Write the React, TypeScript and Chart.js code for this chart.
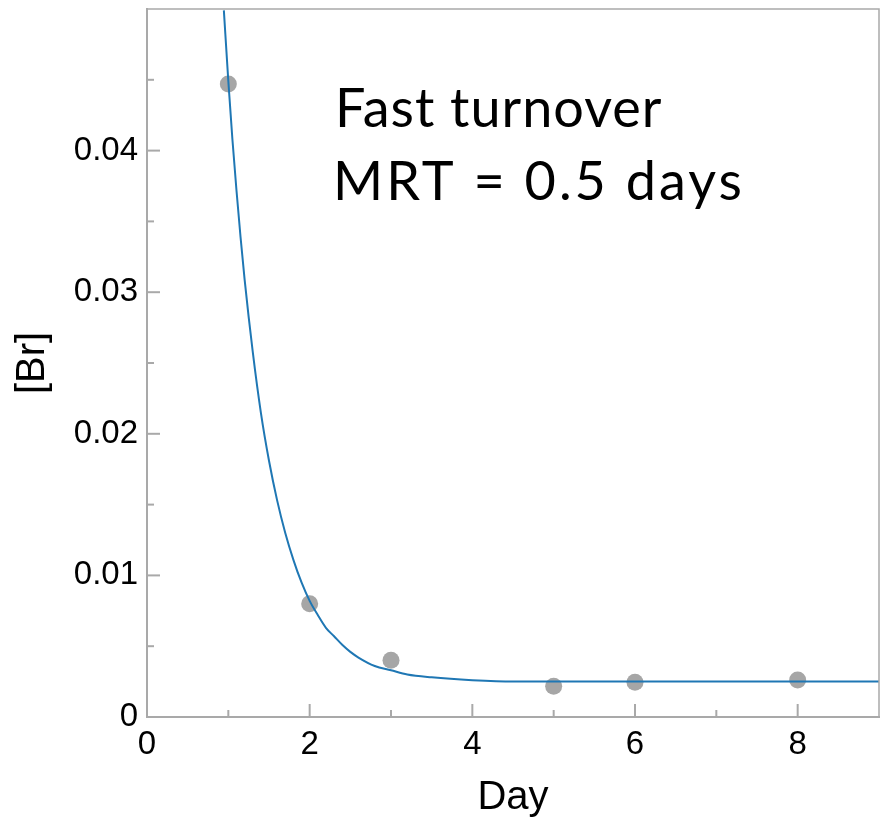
import React, { useEffect, useRef } from "react";
import { Chart, registerables } from "chart.js";

Chart.register(...registerables);

// Measured bromide concentrations
const measuredDays = [1, 2, 3, 5, 6, 8];
const measuredBr = [0.0447, 0.008, 0.004, 0.00217, 0.00245, 0.00262];

// Fitted curve
const fitDays = [0.945, 1.0, 1.05, 1.1, 1.15, 1.2, 1.3, 1.4, 1.5, 1.6, 1.7, 1.8, 1.9, 2.0, 2.1, 2.2, 2.3, 2.4, 2.5, 2.6, 2.8, 3.0, 3.2, 3.5, 4.0, 4.5, 5, 6, 7, 8, 9];
const fitBr = [0.0499, 0.0449, 0.0408, 0.0372, 0.0339, 0.0309, 0.0258, 0.0215, 0.0181, 0.0153, 0.013, 0.0111, 0.0095, 0.0082, 0.0072, 0.0063, 0.0057, 0.0051, 0.0046, 0.0042, 0.0036, 0.0033, 0.003, 0.0028, 0.0026, 0.0025, 0.0025, 0.0025, 0.0025, 0.0025, 0.0025];

// Ticks
const xTickValues = [0, 2, 4, 6, 8];
const xMinorTicks = [1, 3, 5, 7];
const yTickValues = [0, 0.01, 0.02, 0.03, 0.04];
const yMinorTicks = [0.005, 0.015, 0.025, 0.035, 0.045];

const annotationLines = ["Fast turnover", "MRT = 0.5 days"];
const xTitle = "Day";
const yTitle = "[Br]";

const AXIS_GREY = "#a9a9a9";

const decorPlugin = {
  id: "decor",
  afterDraw(chart: any) {
    const { ctx, chartArea, scales } = chart;
    const xs = scales.x;
    const ys = scales.y;
    ctx.save();
    // top and right frame
    ctx.strokeStyle = AXIS_GREY;
    ctx.lineWidth = 1.5;
    ctx.beginPath();
    ctx.moveTo(chartArea.left, chartArea.top);
    ctx.lineTo(chartArea.right, chartArea.top);
    ctx.lineTo(chartArea.right, chartArea.bottom);
    ctx.stroke();
    // inward ticks
    ctx.lineWidth = 2;
    const drawY = (v: number, len: number) => {
      const py = ys.getPixelForValue(v);
      ctx.beginPath();
      ctx.moveTo(chartArea.left, py);
      ctx.lineTo(chartArea.left + len, py);
      ctx.stroke();
    };
    const drawX = (v: number, len: number) => {
      const px = xs.getPixelForValue(v);
      ctx.beginPath();
      ctx.moveTo(px, chartArea.bottom);
      ctx.lineTo(px, chartArea.bottom - len);
      ctx.stroke();
    };
    yTickValues.forEach((v) => drawY(v, 13));
    yMinorTicks.forEach((v) => drawY(v, 7));
    xTickValues.forEach((v) => drawX(v, 13));
    xMinorTicks.forEach((v) => drawX(v, 7));
    // annotation
    ctx.fillStyle = "#000";
    ctx.font = "54px Lato, 'Noto Sans', sans-serif";
    ctx.textAlign = "left";
    ctx.textBaseline = "alphabetic";
    (ctx as any).letterSpacing = "1px";
    ctx.fillText(annotationLines[0], chartArea.left + 188, chartArea.top + 118);
    (ctx as any).letterSpacing = "3px";
    ctx.fillText(annotationLines[1], chartArea.left + 186, chartArea.top + 191);
    (ctx as any).letterSpacing = "0px";
    ctx.restore();
  },
};

export default function App() {
  const canvasRef = useRef<HTMLCanvasElement | null>(null);

  useEffect(() => {
    if (!canvasRef.current) return;
    Chart.defaults.font.family = "'Liberation Sans', Arial, sans-serif";
    Chart.defaults.color = "#000";
    const chart = new Chart(canvasRef.current, {
      type: "scatter",
      data: {
        datasets: [
          {
            label: "fit",
            data: fitDays.map((d, i) => ({ x: d, y: fitBr[i] })),
            showLine: true,
            borderColor: "#1f77b4",
            borderWidth: 2,
            pointRadius: 0,
            fill: false,
            cubicInterpolationMode: "monotone",
          } as any,
          {
            label: "measured",
            data: measuredDays.map((d, i) => ({ x: d, y: measuredBr[i] })),
            pointRadius: 8.5,
            pointHoverRadius: 8.5,
            backgroundColor: "#a6a6a6",
            borderWidth: 0,
            showLine: false,
          } as any,
        ],
      },
      options: {
        animation: false,
        responsive: false,
        events: [],
        layout: { autoPadding: false, padding: { top: 9, right: 2, left: 0, bottom: 0 } },
        plugins: { legend: { display: false }, tooltip: { enabled: false } },
        scales: {
          x: {
            type: "linear",
            min: 0,
            max: 9,
            grid: { display: false, drawTicks: false },
            border: { display: true, color: AXIS_GREY, width: 2 },
            ticks: {
              font: { size: 33 },
              color: "#000",
              padding: 8,
              maxRotation: 0,
              autoSkip: false,
              callback: (v: any) => String(v),
            },
            afterBuildTicks: (s: any) => {
              s.ticks = xTickValues.map((value) => ({ value }));
            },
            afterFit: (s: any) => {
              s.height = 105;
              s.paddingLeft = 0;
              s.paddingRight = 0;
            },
            title: {
              display: true,
              text: xTitle,
              color: "#000",
              font: { size: 40, lineHeight: 1 },
              padding: { top: 0, bottom: 4 },
            },
          },
          y: {
            type: "linear",
            min: 0,
            max: 0.05,
            grid: { display: false, drawTicks: false },
            border: { display: true, color: AXIS_GREY, width: 2 },
            ticks: {
              font: { size: 33 },
              color: "#000",
              padding: 9,
              autoSkip: false,
              callback: (v: any) => (v === 0 ? "0" : Number(v).toFixed(2)),
            },
            afterBuildTicks: (s: any) => {
              s.ticks = yTickValues.map((value) => ({ value }));
            },
            afterFit: (s: any) => {
              s.width = 147;
              s.paddingTop = 0;
              s.paddingBottom = 0;
            },
            title: {
              display: true,
              text: yTitle,
              color: "#000",
              font: { size: 40, lineHeight: 1 },
              padding: { top: 13, bottom: 0 },
            },
          },
        },
      },
      plugins: [decorPlugin],
    });
    return () => chart.destroy();
  }, []);

  return (
    <div style={{ position: "absolute", left: 0, top: 0, width: 881, height: 822, background: "#fff" }}>
      <canvas ref={canvasRef} width={881} height={822} style={{ display: "block" }} />
    </div>
  );
}
